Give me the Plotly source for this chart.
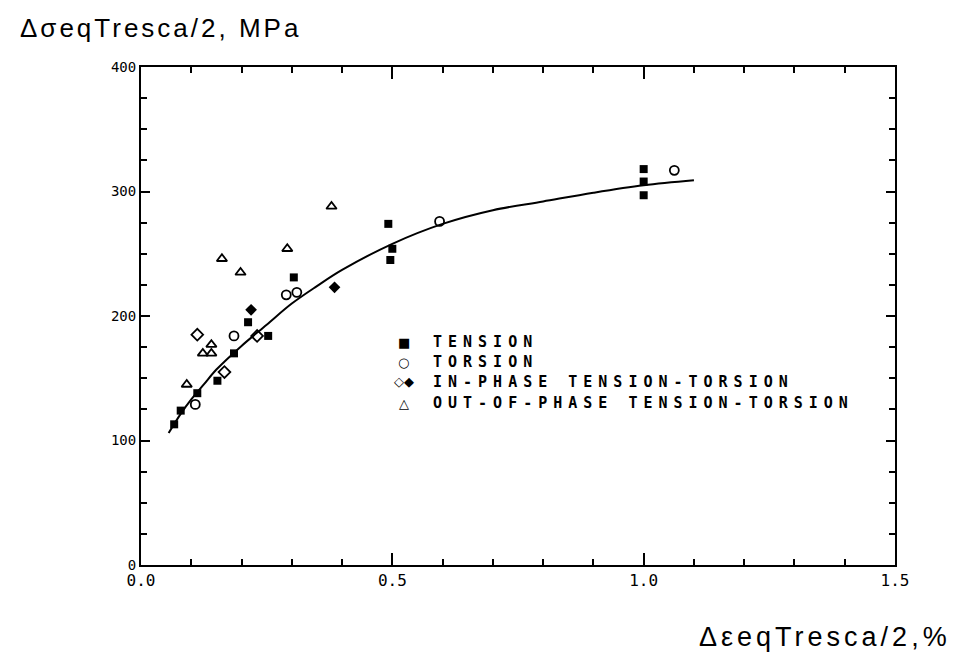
import plotly.graph_objects as go

# ---- data ----
tension_x = [0.066, 0.079, 0.112, 0.152, 0.185, 0.213, 0.253, 0.304, 0.492, 0.500, 0.496, 1.0, 1.0, 1.0]
tension_y = [113, 124, 138, 148, 170, 195, 184, 231, 274, 254, 245, 318, 308, 297]

torsion_x = [0.108, 0.185, 0.289, 0.310, 0.594, 1.061]
torsion_y = [129, 184, 217, 219, 276, 317]

inphase_open_x = [0.112, 0.166, 0.231]
inphase_open_y = [185, 155, 184]
inphase_fill_x = [0.219, 0.385]
inphase_fill_y = [205, 223]

outphase_x = [0.091, 0.123, 0.140, 0.140, 0.161, 0.198, 0.291, 0.379]
outphase_y = [145, 170, 170, 177, 246, 235, 254, 288]

curve_x = [0.055, 0.08, 0.10, 0.125, 0.15, 0.20, 0.25, 0.30, 0.35, 0.40, 0.50, 0.60, 0.70, 0.80, 0.90, 1.00, 1.10]
curve_y = [106, 122, 133, 145, 157, 176, 193, 210, 224, 237, 258, 274, 285, 292, 299, 305, 309]

legend_labels = ["TENSION", "TORSION", "IN-PHASE TENSION-TORSION", "OUT-OF-PHASE TENSION-TORSION"]
legend_symbols = ["■", "○", "◇◆", "△"]
legend_y = [179, 163, 147, 130]

x_ticks = [0.0, 0.5, 1.0, 1.5]
x_ticktext = ["0.0", "0.5", "1.0", "1.5"]
y_ticks = [0, 100, 200, 300, 400]

fig = go.Figure()
fig.add_trace(go.Scatter(x=curve_x, y=curve_y, mode="lines",
                         line=dict(color="black", width=2, shape="spline"), hoverinfo="skip"))
fig.add_trace(go.Scatter(x=tension_x, y=tension_y, mode="markers",
                         marker=dict(symbol="square", size=8, color="black")))
fig.add_trace(go.Scatter(x=torsion_x, y=torsion_y, mode="markers",
                         marker=dict(symbol="circle-open", size=9, color="black", line=dict(width=1.8))))
fig.add_trace(go.Scatter(x=inphase_open_x, y=inphase_open_y, mode="markers",
                         marker=dict(symbol="diamond-open", size=9, color="black", line=dict(width=1.8))))
fig.add_trace(go.Scatter(x=inphase_fill_x, y=inphase_fill_y, mode="markers",
                         marker=dict(symbol="diamond", size=9, color="black")))
fig.add_trace(go.Scatter(x=outphase_x, y=outphase_y, mode="markers",
                         marker=dict(symbol="triangle-up-open", size=9, color="black", line=dict(width=1.8))))

mono = dict(family="DejaVu Sans Mono", size=15, color="black")
for sym, lab, yy in zip(legend_symbols, legend_labels, legend_y):
    fig.add_annotation(x=0.523, y=yy, xref="x", yref="y", text="<b>" + sym + "</b>", showarrow=False,
                       xanchor="center", yanchor="middle",
                       font=dict(family="DejaVu Sans", size=13, color="black"))
    fig.add_annotation(x=0.577, y=yy, xref="x", yref="y",
                       text='<span style="letter-spacing:6px"><b>' + lab + "</b></span>",
                       showarrow=False, xanchor="left", yanchor="middle", font=mono)

fig.update_layout(
    width=955, height=653,
    margin=dict(l=133, r=68, t=59, b=96),
    plot_bgcolor="white", paper_bgcolor="white",
    showlegend=False,
    xaxis=dict(range=[0, 1.5], tickvals=x_ticks, ticktext=x_ticktext,
               ticks="inside", ticklen=12, tickwidth=2, tickcolor="black",
               minor=dict(dtick=0.1, ticks="inside", ticklen=6, tickwidth=1.5, tickcolor="black"),
               showline=True, linecolor="black", linewidth=2, mirror="allticks",
               showgrid=False, zeroline=False,
               tickfont=dict(family="DejaVu Sans Mono", size=16, color="black")),
    yaxis=dict(range=[0, 400], tickvals=y_ticks,
               ticks="inside", ticklen=9, tickwidth=2, tickcolor="black",
               minor=dict(dtick=25, ticks="inside", ticklen=6, tickwidth=1.5, tickcolor="black"),
               showline=True, linecolor="black", linewidth=2, mirror="allticks",
               showgrid=False, zeroline=False,
               tickfont=dict(family="DejaVu Sans Mono", size=14, color="black")),
)

# axis titles positioned as in the original (top-left and bottom-right)
fig.add_annotation(x=0, y=1, xref="paper", yref="paper", xshift=-123, yshift=39,
                   text='<span style="letter-spacing:3px">ΔσeqTresca/2, MPa</span>',
                   showarrow=False, xanchor="left", yanchor="middle",
                   font=dict(family="Liberation Sans", size=26, color="black"))
fig.add_annotation(x=1, y=0, xref="paper", yref="paper", xshift=58, yshift=-72,
                   text='<span style="letter-spacing:4px">ΔεeqTresca/2,%</span>',
                   showarrow=False, xanchor="right", yanchor="middle",
                   font=dict(family="Liberation Sans", size=27, color="black"))

fig.write_html("out.html")
